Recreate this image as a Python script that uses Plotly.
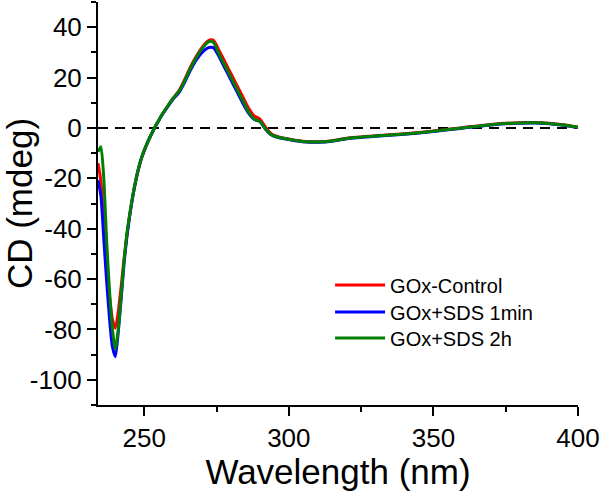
import plotly.graph_objects as go

wavelength = [234, 235, 236, 237, 238, 239, 240, 241, 242, 243, 244, 245, 246, 247, 248, 249, 250,
              251, 252, 253, 254, 255, 256, 258, 260, 262, 264, 266, 268, 270, 272, 273, 274, 276,
              278, 280, 282, 284, 286, 288, 290, 292, 294, 296, 298, 300, 303, 306, 310, 315, 320,
              330, 340, 350, 360, 370, 380, 385, 390, 395, 400]

cd_control = [-14, -21, -37, -54, -67, -76, -79.5, -73, -63, -52, -42.5, -34.5, -27.5, -21.5, -16.5,
              -12.3, -9, -6.2, -3.6, -1.2, 1, 3, 5, 8.5, 11.8, 14.8, 19.3, 24.3, 28.5, 32, 34.5, 35,
              34.7, 30.5, 26, 21.5, 17, 12.5, 8, 4.8, 3.5, 0.2, -2.4, -3.4, -4.0, -4.4, -5.0, -5.4,
              -5.5, -5.1, -4.1, -3.1, -2.3, -1.2, 0.1, 1.4, 2.1, 2.2, 1.9, 1.3, 0.4]

cd_sds_1min = [-20.7, -27, -44, -61, -76, -87, -90.8, -81, -68, -54, -43, -34.5, -27.2, -21.2, -16.2,
               -12.1, -8.9, -6.1, -3.6, -1.3, 0.9, 2.9, 4.9, 8.3, 11.5, 14, 18.2, 23, 27, 30, 31.8, 32,
               31.8, 28, 23.5, 19, 14.5, 10, 6, 3.4, 2.5, -0.6, -2.8, -3.7, -4.2, -4.6, -5.2, -5.6,
               -5.7, -5.3, -4.3, -3.3, -2.5, -1.4, -0.1, 1.2, 1.9, 2.0, 1.7, 1.1, 0.2]

cd_sds_2h = [-9.5, -7.5, -20, -45, -65, -80, -88, -80, -67, -53, -42, -34, -27, -21, -16, -12, -8.8,
             -6, -3.5, -1.2, 1, 3, 5, 8.5, 11.8, 14.5, 18.8, 23.8, 28, 31.5, 34, 34.4, 33.8, 29, 24.5,
             20, 15.5, 11, 6.5, 3.5, 2.6, -0.5, -2.7, -3.6, -4.1, -4.5, -5.1, -5.5, -5.6, -5.2, -4.2,
             -3.2, -2.4, -1.3, 0, 1.3, 2.0, 2.1, 1.8, 1.2, 0.3]

series_names = ["GOx-Control", "GOx+SDS 1min", "GOx+SDS 2h"]
series_colors = ["#FF0000", "#0000FF", "#008000"]
series_values = [cd_control, cd_sds_1min, cd_sds_2h]

x_tick_values = [250, 300, 350, 400]
x_tick_labels = ["250", "300", "350", "400"]
y_tick_values = [-100, -80, -60, -40, -20, 0, 20, 40]
y_tick_labels = ["-100", "-80", "-60", "-40", "-20", "0", "20", "40"]

x_range = [234, 400]
y_range = [-110, 50]

legend_ids = ["legend", "legend2", "legend3"]
legend_rows_y = [0.298, 0.231, 0.166]

fig = go.Figure()
for name, color, vals, lid in zip(series_names, series_colors, series_values, legend_ids):
    fig.add_trace(go.Scatter(x=wavelength, y=vals, mode="lines", name=name, legend=lid,
                             line=dict(color=color, width=3, shape="spline", smoothing=0.6)))

fig.add_shape(type="line", xref="paper", yref="y", x0=0, x1=1, y0=0, y1=0,
              line=dict(color="black", width=2, dash="10px,7px"), layer="below")

axis_common = dict(showline=True, linecolor="black", linewidth=2, showgrid=False, zeroline=False,
                   tickwidth=2, tickcolor="black", automargin=False)

legend_common = dict(x=0.4835, xanchor="left", yanchor="middle", bgcolor="rgba(0,0,0,0)",
                     font=dict(size=20, color="black"), itemwidth=50)

fig.update_layout(
    width=600, height=491,
    margin=dict(l=98, r=22, t=2, b=86),
    plot_bgcolor="white", paper_bgcolor="white",
    font=dict(family="Liberation Sans, Arial, sans-serif", color="black", size=26),
    xaxis=dict(range=x_range, tickmode="array", tickvals=x_tick_values, ticktext=x_tick_labels,
               ticks="outside", ticklen=9,
               minor=dict(dtick=25, tick0=0, ticks="outside", ticklen=5, tickwidth=2, tickcolor="black"),
               tickfont=dict(size=26),
               title=dict(text="Wavelength (nm)", font=dict(size=35), standoff=1),
               **axis_common),
    yaxis=dict(range=y_range, tickmode="array", tickvals=y_tick_values, ticktext=y_tick_labels,
               ticks="outside", ticklen=9,
               minor=dict(dtick=10, tick0=0, ticks="outside", ticklen=5, tickwidth=2, tickcolor="black"),
               tickfont=dict(size=26),
               title=dict(text="CD (mdeg)", font=dict(size=35), standoff=12),
               **axis_common),
    xaxis2=dict(range=x_range, overlaying="x", side="top", tick0=0, dtick=50, ticks="inside",
                ticklen=7, showticklabels=False,
                minor=dict(dtick=25, ticks="inside", ticklen=4, tickwidth=2, tickcolor="black"),
                **axis_common),
    yaxis2=dict(range=y_range, overlaying="y", side="right", tick0=0, dtick=20, ticks="inside",
                ticklen=8, showticklabels=False,
                minor=dict(dtick=10, ticks="inside", ticklen=5, tickwidth=2, tickcolor="black"),
                **axis_common),
    legend=dict(y=legend_rows_y[0], **legend_common),
    legend2=dict(y=legend_rows_y[1], **legend_common),
    legend3=dict(y=legend_rows_y[2], **legend_common),
    showlegend=True,
)

fig.write_html("out.html", config={"displayModeBar": False},
               post_script="document.body.style.margin='0px';")
